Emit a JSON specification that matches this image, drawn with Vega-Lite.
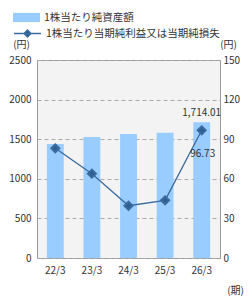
{
  "$schema": "https://vega.github.io/schema/vega-lite/v6.json",
  "autosize": {"type": "none"},
  "width": 183,
  "height": 198,
  "padding": {"left": 37, "top": 60, "right": 30, "bottom": 42},
  "background": "white",
  "data": {"values": [
    {"period": "22/3", "bps": 1439, "eps": 83.1},
    {"period": "23/3", "bps": 1528, "eps": 63.9},
    {"period": "24/3", "bps": 1566, "eps": 39.6},
    {"period": "25/3", "bps": 1582, "eps": 43.7},
    {"period": "26/3", "bps": 1714.01, "eps": 96.73, "bpsLabel": "1,714.01", "epsLabel": "96.73"}
  ]},
  "config": {
    "font": "Noto Sans CJK JP",
    "view": {"fill": "#f3f3f3", "stroke": "#999999", "strokeWidth": 1},
    "axis": {"labelFont": "Noto Sans CJK JP", "labelFontSize": 10, "labelColor": "#333333", "titleFont": "Noto Sans CJK JP", "titleFontSize": 10, "titleFontWeight": "normal", "titleColor": "#333333", "domain": false, "ticks": false, "labelOverlap": false},
    "legend": {"labelFont": "Noto Sans CJK JP", "labelFontSize": 10.5, "labelColor": "#333333", "labelLimit": 0}
  },
  "encoding": {
    "x": {"field": "period", "type": "ordinal", "scale": {"paddingInner": 0.54, "paddingOuter": 0.27},
      "axis": {"labelAngle": 0, "labelPadding": 7, "title": "(期)", "titleAngle": 0, "titleX": 198, "titleY": 32, "titleAnchor": "middle", "titleBaseline": "middle"}}
  },
  "layer": [
    {
      "encoding": {
        "y": {"field": "bps", "type": "quantitative", "scale": {"domain": [0, 2500]},
          "axis": {"values": [0, 500, 1000, 1500, 2000, 2500], "format": "d", "grid": true, "gridColor": "#aaaaaa", "gridDash": [4, 3], "labelPadding": 6, "title": "(円)", "titleAngle": 0, "titleX": -16, "titleY": -16, "titleAnchor": "middle", "titleBaseline": "middle", "titleAlign": "center"}}
      },
      "layer": [
        {
          "mark": {"type": "bar", "color": "#99ccff"},
          "encoding": {
            "fill": {"datum": "1株当たり純資産額", "type": "nominal", "scale": {"range": ["#99ccff"]},
              "legend": {"orient": "none", "legendX": -24, "legendY": -56, "title": null, "symbolType": "M-1,-0.34H1V0.34H-1Z", "symbolSize": 729, "symbolStrokeWidth": 0, "labelOffset": 4}}
          }
        },
        {
          "transform": [{"filter": "datum.bpsLabel"}],
          "mark": {"type": "text", "baseline": "bottom", "dy": -4, "fontSize": 10, "color": "#333333"},
          "encoding": {
            "text": {"field": "bpsLabel"}
          }
        }
      ]
    },
    {
      "encoding": {
        "y": {"field": "eps", "type": "quantitative", "scale": {"domain": [0, 150]},
          "axis": {"orient": "right", "values": [0, 30, 60, 90, 120, 150], "format": "d", "grid": false, "labelPadding": 3, "title": "(円)", "titleAngle": 0, "titleX": 8, "titleY": -16, "titleAnchor": "middle", "titleBaseline": "middle", "titleAlign": "center"}}
      },
      "layer": [
        {
          "mark": {"type": "line", "color": "#3a6a9e", "strokeWidth": 1.3, "point": {"shape": "diamond", "size": 64, "color": "#2f5f92", "filled": true}},
          "encoding": {
            "stroke": {"datum": "1株当たり当期純利益又は当期純損失", "type": "nominal", "scale": {"range": ["#3a6a9e"]},
              "legend": {"orient": "none", "legendX": -24, "legendY": -41, "title": null, "symbolType": "M-1,0H1M0,-0.26L0.26,0L0,0.26L-0.26,0Z", "symbolSize": 729, "symbolFillColor": "#2f5f92", "symbolStrokeWidth": 1.3, "labelOffset": 4}}
          }
        },
        {
          "transform": [{"filter": "datum.epsLabel"}],
          "mark": {"type": "text", "baseline": "middle", "dy": 24, "dx": 1, "fontSize": 10, "color": "#333333"},
          "encoding": {
            "text": {"field": "epsLabel"}
          }
        }
      ]
    }
  ],
  "resolve": {"scale": {"y": "independent", "fill": "independent", "stroke": "independent"}}
}
